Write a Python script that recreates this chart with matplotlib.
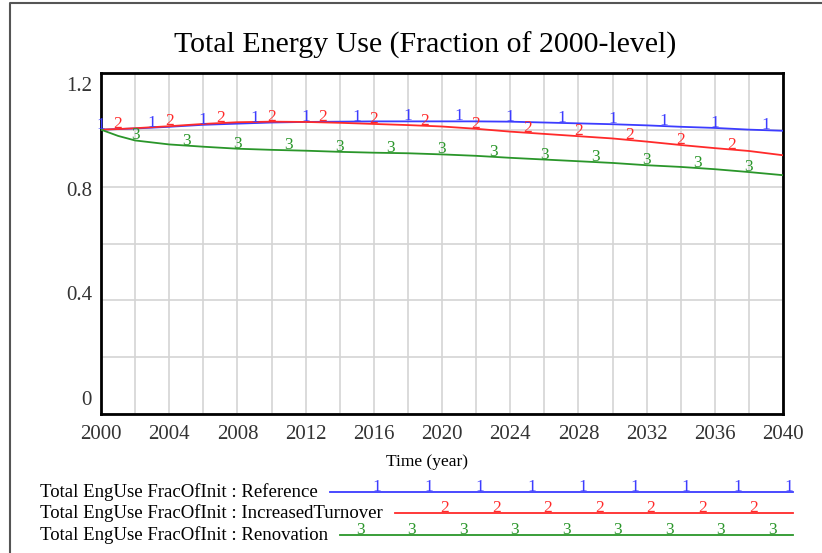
import numpy as np
import matplotlib.pyplot as plt
from matplotlib.lines import Line2D

# data
years = [2000, 2001, 2002, 2004, 2006, 2008, 2010, 2012, 2014, 2016, 2018, 2020,
         2022, 2024, 2026, 2028, 2030, 2032, 2034, 2036, 2038, 2040]
reference = [1.000, 1.002, 1.004, 1.010, 1.017, 1.021, 1.025, 1.027, 1.028, 1.029, 1.029,
             1.029, 1.029, 1.028, 1.025, 1.022, 1.019, 1.015, 1.010, 1.006, 1.000, 0.996]
increased_turnover = [1.000, 1.002, 1.005, 1.012, 1.020, 1.026, 1.028, 1.027, 1.024, 1.020,
                      1.016, 1.011, 1.003, 0.993, 0.985, 0.977, 0.969, 0.958, 0.946, 0.935,
                      0.925, 0.910]
renovation = [1.000, 0.978, 0.962, 0.948, 0.940, 0.933, 0.929, 0.926, 0.922, 0.919, 0.917,
              0.913, 0.908, 0.901, 0.895, 0.889, 0.883, 0.875, 0.869, 0.861, 0.851, 0.840]

series_names = ['Total EngUse FracOfInit : Reference',
                'Total EngUse FracOfInit : IncreasedTurnover',
                'Total EngUse FracOfInit : Renovation']
series_values = [reference, increased_turnover, renovation]
series_colors = ['#3c3cff', '#ff2a2a', '#2a962a']
digits = ['1', '2', '3']
digit_start = [2000, 2001, 2002]

y_ticks = [0, 0.4, 0.8, 1.2]
y_tick_labels = ['0', '0.4', '0.8', '1.2']

W, H = 822, 553
plt.rcParams['font.family'] = ['Liberation Serif', 'DejaVu Serif']
fig = plt.figure(figsize=(W / 100, H / 100), dpi=100)

# plot area
left, right, top, bottom = 101, 783, 72.7, 414.3
ax = fig.add_axes([left / W, 1 - bottom / H, (right - left) / W, (bottom - top) / H])

for vals, c, d, s in zip(series_values, series_colors, digits, digit_start):
    ax.plot(years, vals, color=c, lw=1.3, zorder=3)
    for yr in np.arange(s, 2040, 3):
        yv = np.interp(yr, years, vals)
        ax.annotate(d, (yr, yv), xytext=(0, 5), textcoords='offset pixels',
                    ha='center', va='center', fontsize=12.5, color=c,
                    annotation_clip=False, zorder=4)

ax.set_xlim(2000, 2040)
ax.set_ylim(0, 1.2)
ax.set_xticks(range(2000, 2041, 2))
ax.set_xticklabels([str(y) if (y - 2000) % 4 == 0 else '' for y in range(2000, 2041, 2)],
                   fontsize=15, color='#333333')
ax.set_yticks(np.arange(0, 1.21, 0.2))
ax.set_yticklabels([])
ax.tick_params(length=0, pad=8)
ax.grid(True, color='#d4d4d4', lw=1.2)
ax.set_axisbelow(True)
for sp in ax.spines.values():
    sp.set_linewidth(2)
    sp.set_color('black')

# vensim-style y labels, pulled inward at the ends
for v, lab, dy in zip(y_ticks, y_tick_labels, [14, 4.7, -4.7, -14]):
    ax.annotate(lab, (0, v), xycoords=ax.get_yaxis_transform(), xytext=(-9, dy),
                textcoords='offset pixels', ha='right', va='center',
                fontsize=15, color='#333333')

fig.text(425 / W, 1 - 45 / H, 'Total Energy Use (Fraction of 2000-level)',
         ha='center', va='center', fontsize=21.5)
fig.text(427 / W, 1 - 462 / H, 'Time (year)', ha='center', va='center', fontsize=12.5)

# legend + outer frame drawn in pixel space
lax = fig.add_axes([0, 0, 1, 1], zorder=5)
lax.set_xlim(0, W)
lax.set_ylim(H, 0)
lax.axis('off')
lax.patch.set_alpha(0)
lax.add_line(Line2D([10, 10, W], [H, 3, 3], color='#555555', lw=1.5))

renderer = fig.canvas.get_renderer()
row_y = [492, 513, 535]
legend_digit_first = [377, 445, 360]
for name, c, d, ry, first in zip(series_names, series_colors, digits, row_y, legend_digit_first):
    t = lax.text(40, ry, name, ha='left', va='center', fontsize=13.5)
    x_end = t.get_window_extent(renderer).x1
    lax.plot([x_end + 12, 793], [ry, ry], color=c, lw=1.3)
    for xd in np.arange(first, 794, 51.5):
        lax.text(xd, ry - 5, d, ha='center', va='center', fontsize=12.5, color=c)

fig.savefig('out.png', dpi=100)
